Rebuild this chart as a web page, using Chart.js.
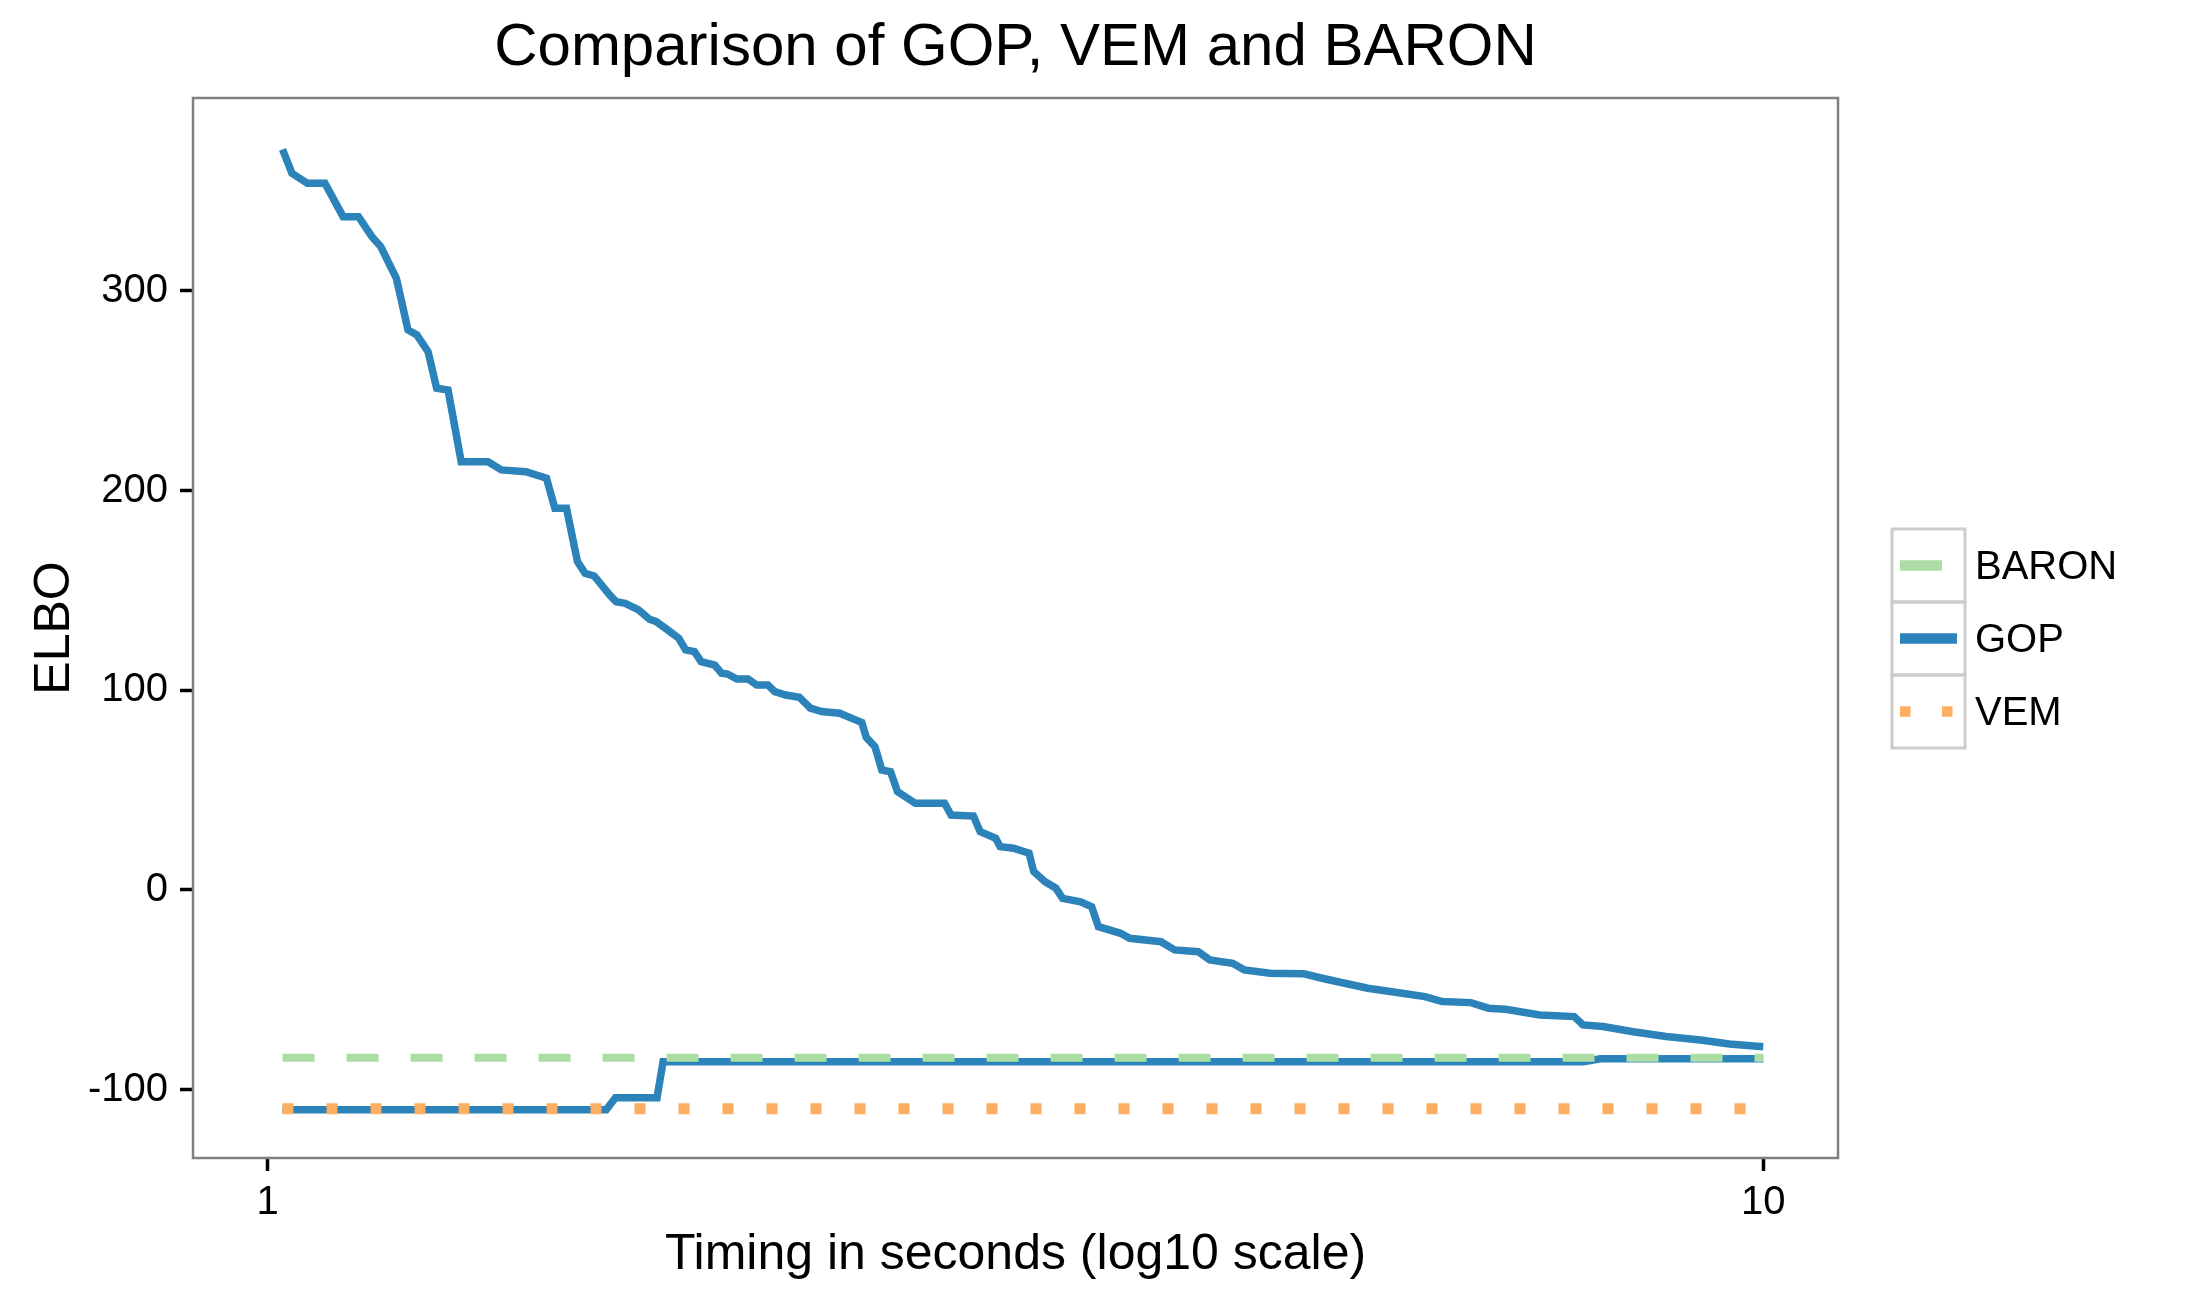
<!doctype html>
<html>

<head>
  <script src="https://cdn.jsdelivr.net/npm/chart.js@4/dist/chart.umd.min.js"></script>
  <style>
    body { margin: 0; background: #fff; }
  </style>
</head>

<body>
  <canvas id="canvas" width="2195" height="1304"></canvas>
  <script>
    // GOP upper bound (seconds, ELBO)
    const gopTime = [1.023, 1.038, 1.063, 1.092, 1.123, 1.150, 1.174, 1.190, 1.219, 1.241, 1.258, 1.280,
      1.297, 1.320, 1.347, 1.404, 1.433, 1.488, 1.536, 1.556, 1.584, 1.611, 1.630, 1.653, 1.693, 1.710,
      1.734, 1.770, 1.800, 1.819, 1.851, 1.883, 1.903, 1.929, 1.949, 1.990, 2.011, 2.030, 2.059, 2.095,
      2.123, 2.160, 2.183, 2.220, 2.267, 2.306, 2.346, 2.412, 2.479, 2.496, 2.513, 2.547, 2.574, 2.609,
      2.637, 2.710, 2.835, 2.864, 2.964, 2.995, 3.067, 3.088, 3.152, 3.229, 3.252, 3.308, 3.365, 3.400,
      3.496, 3.556, 3.593, 3.718, 3.770, 3.956, 4.040, 4.190, 4.265, 4.418, 4.497, 4.680, 4.930, 5.070,
      5.250, 5.440, 5.735, 5.940, 6.100, 6.375, 6.550, 6.725, 7.090, 7.475, 7.576, 7.815, 8.166, 8.610,
      9.080, 9.490, 10.0];
    const gopElbo = [370.8, 358.8, 353.8, 353.8, 337.1, 337.1, 327.1, 322.1, 306.2, 280.4, 277.9, 269.5,
      251.2, 250.3, 214.4, 214.4, 210.3, 209.4, 206.1, 191.1, 191.1, 164.4, 158.5, 157.2, 147.7, 144.3,
      143.5, 140.2, 135.5, 134.3, 130.2, 126.0, 120.2, 119.3, 114.3, 112.6, 108.5, 108.1, 105.6, 105.6,
      102.6, 102.6, 99.3, 97.6, 96.5, 91.0, 89.3, 88.5, 84.8, 83.8, 76.4, 71.7, 60.1, 59.2,
      49.2, 43.4, 43.4, 37.5, 37.0, 29.2, 25.9, 21.7, 20.9, 18.4, 9.2, 4.2, 0.9, -4.2,
      -5.9, -8.4, -18.4, -21.7, -24.2, -25.9, -30.0, -30.9, -35.0, -36.7, -40.0, -41.7, -42.0, -44.2,
      -46.7, -49.2, -51.7, -53.4, -55.9, -56.4, -59.2, -59.7, -62.6, -63.4, -67.6, -68.4, -70.9, -73.4,
      -75.1, -77.1, -78.5];

    // GOP lower bound
    const gopLowTime = [1.023, 1.684, 1.708, 1.821, 1.838, 7.58, 7.78, 10.0];
    const gopLowElbo = [-110, -110, -104, -104, -86, -86, -84.5, -84.5];

    const baronTime = [1.023, 10.0];
    const baronElbo = [-84, -84];

    const vemTime = [1.023, 10.0];
    const vemElbo = [-109.5, -109.5];

    const yTicks = [-100, 0, 100, 200, 300];
    const xTicks = [1, 10];
    const legendOrder = ['BARON', 'GOP', 'VEM'];

    const FONT = '"Liberation Sans", Arial, sans-serif';
    const toPoints = (xs, ys) => xs.map((x, i) => ({ x: x, y: ys[i] }));

    // grey panel border and a ggplot-like legend with boxed keys
    const panelAndLegend = {
      id: 'panelAndLegend',
      afterDraw(chart) {
        const ctx = chart.ctx;
        const a = chart.chartArea;
        ctx.save();
        ctx.strokeStyle = '#808080';
        ctx.lineWidth = 2.5;
        ctx.strokeRect(a.left, a.top, a.right - a.left, a.bottom - a.top);

        const boxX = 1892, boxW = 73, boxH = 73, top0 = 529, keyLw = 10.5;
        legendOrder.forEach((name, i) => {
          const ds = chart.data.datasets.find((d) => d.label === name);
          const y = top0 + i * boxH;
          ctx.setLineDash([]);
          ctx.strokeStyle = '#cccccc';
          ctx.lineWidth = 3;
          ctx.strokeRect(boxX, y, boxW, boxH);

          const k = keyLw / ds.borderWidth;
          ctx.setLineDash((ds.borderDash || []).map((v) => v * k));
          ctx.strokeStyle = ds.borderColor;
          ctx.lineWidth = keyLw;
          ctx.lineCap = 'butt';
          ctx.beginPath();
          ctx.moveTo(boxX + 8, y + boxH / 2);
          ctx.lineTo(boxX + 65, y + boxH / 2);
          ctx.stroke();

          ctx.setLineDash([]);
          ctx.fillStyle = '#000';
          ctx.font = '40px ' + FONT;
          ctx.textBaseline = 'middle';
          ctx.textAlign = 'left';
          ctx.fillText(name, boxX + 83, y + boxH / 2 + 2);
        });
        ctx.restore();
      }
    };

    new Chart(document.getElementById('canvas').getContext('2d'), {
      type: 'line',
      data: {
        datasets: [{
          label: 'GOP',
          data: toPoints(gopTime, gopElbo),
          borderColor: '#2b83ba',
          borderWidth: 7.5,
          order: 3
        }, {
          label: 'GOP lower',
          data: toPoints(gopLowTime, gopLowElbo),
          borderColor: '#2b83ba',
          borderWidth: 7.5,
          order: 3
        }, {
          label: 'BARON',
          data: toPoints(baronTime, baronElbo),
          borderColor: '#abdda4',
          borderWidth: 8,
          borderDash: [32, 32],
          order: 2
        }, {
          label: 'VEM',
          data: toPoints(vemTime, vemElbo),
          borderColor: '#fdae61',
          borderWidth: 11,
          borderDash: [11, 33],
          order: 1
        }]
      },
      options: {
        responsive: false,
        devicePixelRatio: 1,
        animation: false,
        elements: {
          point: { radius: 0 },
          line: { tension: 0, fill: false, borderCapStyle: 'butt' }
        },
        layout: { padding: { left: 0, right: 357, top: 0, bottom: 0 } },
        plugins: {
          legend: { display: false },
          tooltip: { enabled: false },
          title: {
            display: true,
            text: 'Comparison of GOP, VEM and BARON',
            fullSize: false,
            color: '#000',
            font: { family: FONT, size: 60, weight: 'normal', lineHeight: 1.2 },
            padding: { top: 12, bottom: 14 }
          }
        },
        scales: {
          x: {
            type: 'logarithmic',
            min: 0.8913,
            max: 11.22,
            afterBuildTicks: (s) => { s.ticks = xTicks.map((v) => ({ value: v })); },
            afterFit: (s) => { s.height = 146; },
            ticks: {
              color: '#000',
              padding: 8,
              autoSkip: false,
              maxRotation: 0,
              font: { family: FONT, size: 40 },
              callback: (v) => String(v)
            },
            grid: { display: true, drawOnChartArea: false, drawTicks: true, tickLength: 13, tickColor: '#000', tickWidth: 3.5 },
            border: { display: false },
            title: {
              display: true,
              text: 'Timing in seconds (log10 scale)',
              color: '#000',
              font: { family: FONT, size: 50, lineHeight: 1.2 },
              padding: { top: 0, bottom: 19 }
            }
          },
          y: {
            min: -134.2,
            max: 396.5,
            afterBuildTicks: (s) => { s.ticks = yTicks.map((v) => ({ value: v })); },
            afterFit: (s) => { s.width = 193; },
            ticks: {
              color: '#000',
              padding: 12,
              font: { family: FONT, size: 40 }
            },
            grid: { display: true, drawOnChartArea: false, drawTicks: true, tickLength: 13, tickColor: '#000', tickWidth: 3.5 },
            border: { display: false },
            title: {
              display: true,
              text: 'ELBO',
              color: '#000',
              font: { family: FONT, size: 50, lineHeight: 1.2 },
              padding: { top: 25, bottom: 0 }
            }
          }
        }
      },
      plugins: [panelAndLegend]
    });
  </script>
</body>

</html>
